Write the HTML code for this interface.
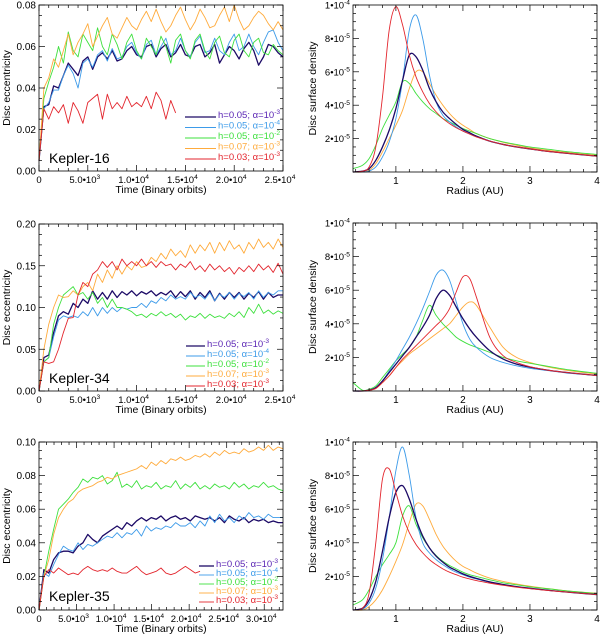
<!DOCTYPE html>
<html><head><meta charset="utf-8"><style>
body{margin:0;background:#fff}
svg{display:block;font-family:"Liberation Sans",sans-serif}
</style></head><body>
<svg id="fig" width="600" height="637" viewBox="0 0 600 637"></svg>
<script>
// ---------- DATA ----------
const seriesNames = ["h=0.05; α=10-3","h=0.05; α=10-4","h=0.05; α=10-2","h=0.07; α=10-3","h=0.03; α=10-3"];
const legendBase = ["h=0.05; α=10","h=0.05; α=10","h=0.05; α=10","h=0.07; α=10","h=0.03; α=10"];
const legendExp = ["-3","-4","-2","-3","-3"];
// Kepler-16 eccentricity (dt = 500 orbits)
const k16Dt = 500;
const k16Dark = [0.005,0.031,0.032,0.041,0.040,0.046,0.052,0.049,0.046,0.053,0.055,0.049,0.055,0.057,0.054,0.058,0.053,0.054,0.058,0.060,0.056,0.055,0.060,0.061,0.055,0.059,0.061,0.055,0.057,0.061,0.056,0.055,0.060,0.061,0.055,0.057,0.061,0.052,0.056,0.060,0.058,0.054,0.059,0.062,0.058,0.051,0.055,0.061,0.060,0.057,0.055];
const k16Blue = [0.005,0.030,0.033,0.039,0.039,0.046,0.051,0.047,0.040,0.052,0.054,0.050,0.056,0.058,0.053,0.059,0.054,0.055,0.060,0.062,0.057,0.054,0.061,0.063,0.056,0.060,0.064,0.056,0.058,0.064,0.058,0.055,0.062,0.065,0.057,0.058,0.064,0.058,0.056,0.062,0.066,0.058,0.060,0.066,0.060,0.056,0.062,0.067,0.068,0.062,0.058];
const k16Green = [0.005,0.035,0.043,0.050,0.060,0.052,0.067,0.058,0.055,0.066,0.062,0.058,0.069,0.060,0.056,0.066,0.061,0.054,0.062,0.066,0.058,0.054,0.064,0.060,0.056,0.065,0.060,0.052,0.063,0.066,0.058,0.054,0.063,0.066,0.058,0.054,0.062,0.065,0.057,0.055,0.063,0.066,0.058,0.055,0.062,0.064,0.057,0.056,0.061,0.058,0.056];
const k16Orange = [0.005,0.040,0.045,0.054,0.050,0.058,0.066,0.056,0.062,0.066,0.071,0.060,0.065,0.070,0.074,0.066,0.064,0.069,0.074,0.070,0.068,0.073,0.077,0.072,0.078,0.072,0.067,0.070,0.075,0.079,0.073,0.068,0.072,0.078,0.074,0.069,0.070,0.075,0.079,0.072,0.080,0.073,0.068,0.070,0.074,0.077,0.075,0.071,0.068,0.072,0.068];
const k16Red = [0.005,0.030,0.025,0.031,0.028,0.032,0.023,0.033,0.029,0.023,0.033,0.035,0.037,0.025,0.037,0.030,0.033,0.030,0.036,0.031,0.033,0.031,0.036,0.030,0.038,0.034,0.025,0.034,0.028];
// Kepler-34 eccentricity (dt = 500)
const k34Dt = 500;
const k34Dark = [0,0.040,0.043,0.070,0.090,0.095,0.092,0.105,0.100,0.110,0.105,0.120,0.110,0.118,0.110,0.120,0.112,0.119,0.115,0.120,0.114,0.119,0.116,0.120,0.114,0.118,0.115,0.120,0.112,0.119,0.113,0.120,0.110,0.118,0.112,0.120,0.108,0.117,0.110,0.118,0.112,0.118,0.110,0.117,0.112,0.119,0.110,0.118,0.112,0.115,0.115];
const k34Blue = [0,0.035,0.040,0.065,0.085,0.090,0.088,0.090,0.088,0.095,0.090,0.100,0.090,0.100,0.093,0.100,0.095,0.100,0.098,0.100,0.100,0.105,0.100,0.108,0.105,0.112,0.108,0.115,0.110,0.113,0.110,0.118,0.112,0.115,0.110,0.118,0.108,0.116,0.112,0.118,0.110,0.117,0.113,0.118,0.110,0.120,0.112,0.118,0.115,0.120,0.120];
const k34Green = [0,0.035,0.040,0.080,0.100,0.115,0.120,0.125,0.115,0.118,0.110,0.118,0.105,0.112,0.100,0.110,0.100,0.100,0.098,0.095,0.090,0.092,0.088,0.093,0.090,0.095,0.090,0.093,0.088,0.092,0.085,0.090,0.088,0.093,0.087,0.092,0.088,0.090,0.087,0.093,0.089,0.095,0.088,0.100,0.093,0.104,0.093,0.097,0.092,0.096,0.093];
const k34Orange = [0,0.050,0.080,0.100,0.115,0.112,0.113,0.120,0.115,0.125,0.130,0.120,0.140,0.130,0.145,0.135,0.150,0.140,0.150,0.145,0.155,0.148,0.150,0.160,0.155,0.165,0.158,0.170,0.162,0.168,0.160,0.175,0.165,0.175,0.168,0.178,0.165,0.178,0.168,0.180,0.170,0.175,0.165,0.178,0.170,0.182,0.172,0.178,0.170,0.182,0.172];
const k34Red = [0,0.035,0.033,0.035,0.050,0.070,0.087,0.088,0.115,0.130,0.125,0.140,0.145,0.155,0.148,0.155,0.145,0.158,0.150,0.155,0.150,0.158,0.150,0.155,0.148,0.155,0.150,0.152,0.145,0.152,0.148,0.155,0.145,0.150,0.143,0.152,0.145,0.150,0.143,0.148,0.140,0.148,0.143,0.150,0.143,0.152,0.145,0.150,0.142,0.153,0.140];
// Kepler-35 eccentricity (dt = 650)
const k35Dt = 650;
const k35Dark = [0,0.024,0.022,0.030,0.034,0.035,0.035,0.034,0.038,0.040,0.045,0.042,0.040,0.044,0.046,0.048,0.050,0.048,0.052,0.050,0.053,0.055,0.053,0.055,0.054,0.056,0.053,0.055,0.056,0.054,0.055,0.053,0.056,0.055,0.054,0.055,0.053,0.055,0.052,0.056,0.054,0.053,0.055,0.052,0.054,0.053,0.054,0.052,0.053,0.052,0.052];
const k35Blue = [0,0.022,0.020,0.027,0.033,0.038,0.036,0.035,0.040,0.036,0.039,0.038,0.040,0.042,0.044,0.043,0.046,0.043,0.046,0.045,0.048,0.044,0.050,0.047,0.049,0.048,0.050,0.049,0.052,0.050,0.050,0.052,0.049,0.053,0.050,0.056,0.052,0.057,0.053,0.055,0.052,0.056,0.054,0.058,0.055,0.056,0.054,0.057,0.055,0.055,0.055];
const k35Green = [0,0.020,0.035,0.048,0.060,0.063,0.066,0.070,0.073,0.078,0.076,0.079,0.078,0.080,0.075,0.077,0.082,0.073,0.075,0.073,0.077,0.072,0.074,0.073,0.076,0.072,0.074,0.073,0.077,0.072,0.075,0.073,0.076,0.072,0.074,0.072,0.075,0.073,0.074,0.072,0.076,0.073,0.075,0.072,0.074,0.073,0.076,0.073,0.074,0.072,0.071];
const k35Orange = [0,0.020,0.030,0.045,0.055,0.060,0.064,0.066,0.070,0.072,0.073,0.074,0.076,0.077,0.079,0.078,0.080,0.081,0.082,0.083,0.084,0.086,0.084,0.088,0.086,0.089,0.087,0.090,0.089,0.091,0.089,0.090,0.092,0.091,0.093,0.091,0.094,0.092,0.095,0.093,0.094,0.093,0.096,0.094,0.095,0.097,0.095,0.098,0.095,0.097,0.096];
const k35Red = [0,0.020,0.024,0.022,0.025,0.023,0.021,0.022,0.021,0.024,0.026,0.024,0.023,0.024,0.023,0.025,0.023,0.022,0.022,0.024,0.026,0.023,0.021,0.022,0.023,0.025,0.022,0.021,0.022,0.024,0.026,0.024,0.022,0.023];
// Surface density profiles (units of 1e-5), on common radius grid (AU)
const radii = [0.36,0.5,0.6,0.7,0.8,0.9,1.0,1.1,1.2,1.3,1.4,1.5,1.6,1.7,1.8,1.9,2.0,2.1,2.2,2.4,2.6,2.8,3.0,3.3,3.6,4.0];
const s16Dark   = [0,0.05,0.2,0.7,1.5,2.5,3.8,5.5,7.0,6.9,6.1,5.0,4.2,3.6,3.2,2.85,2.55,2.35,2.15,1.85,1.65,1.5,1.38,1.22,1.1,0.95];
const s16Blue   = [0,0,0.05,0.3,0.9,1.8,3.2,5.5,8.5,9.4,8.0,5.8,4.2,3.4,3.0,2.7,2.45,2.28,2.12,1.85,1.65,1.5,1.38,1.22,1.1,0.95];
const s16Green  = [0.2,0.4,0.8,1.6,2.6,3.4,4.2,5.4,5.3,4.7,4.2,3.8,3.5,3.2,3.0,2.8,2.6,2.45,2.3,2.0,1.8,1.65,1.5,1.35,1.2,1.05];
const s16Orange = [0,0,0.1,0.5,1.2,2.0,2.8,3.7,5.0,6.0,6.0,5.3,4.6,4.0,3.5,3.1,2.8,2.55,2.3,2.0,1.78,1.6,1.45,1.28,1.15,1.0];
const s16Red    = [0,0.05,0.3,1.5,4.5,8.5,9.9,8.8,7.0,5.7,4.8,4.1,3.6,3.2,2.9,2.65,2.45,2.27,2.1,1.85,1.65,1.5,1.38,1.22,1.1,0.95];
const s34Dark   = [0,0,0.05,0.2,0.6,1.1,1.6,2.1,2.6,3.2,3.8,4.5,5.5,6.0,5.7,5.0,4.3,3.7,3.2,2.4,1.9,1.6,1.42,1.22,1.08,0.92];
const s34Blue   = [0,0,0.05,0.2,0.6,1.2,1.8,2.5,3.2,4.0,4.9,5.9,6.9,7.2,6.6,5.3,4.0,3.1,2.6,2.0,1.7,1.5,1.35,1.2,1.05,0.92];
const s34Green  = [0.5,0.05,0.1,0.3,0.8,1.3,1.8,2.2,2.6,3.2,4.2,5.1,4.5,4.0,3.6,3.2,2.95,2.75,2.6,2.3,2.0,1.8,1.65,1.45,1.25,1.05];
const s34Orange = [0,0,0.05,0.15,0.5,0.9,1.4,1.8,2.2,2.5,2.8,3.1,3.4,3.7,4.0,4.5,5.0,5.3,5.1,3.8,2.6,2.0,1.7,1.4,1.2,1.0];
const s34Red    = [0,0,0.05,0.15,0.5,0.9,1.4,1.9,2.3,2.7,3.1,3.5,3.9,4.3,4.9,5.9,6.8,6.7,5.6,3.2,2.1,1.7,1.45,1.22,1.08,0.92];
const s35Dark   = [0,0.1,0.6,1.7,3.5,5.5,7.0,7.4,6.6,5.4,4.4,3.7,3.2,2.85,2.55,2.35,2.15,2.0,1.88,1.67,1.52,1.39,1.29,1.16,1.05,0.92];
const s35Blue   = [0,0.05,0.4,1.3,3.0,5.5,8.3,9.7,8.0,5.5,4.0,3.4,3.0,2.7,2.45,2.25,2.1,1.95,1.85,1.65,1.5,1.38,1.28,1.16,1.05,0.92];
const s35Green  = [0.3,0.6,1.2,2.0,2.7,3.3,4.0,5.6,6.2,5.1,4.3,3.7,3.25,2.9,2.65,2.45,2.25,2.1,2.0,1.8,1.62,1.5,1.38,1.25,1.12,0.98];
const s35Orange = [0,0,0.2,0.6,1.2,2.0,2.9,3.9,5.2,6.3,6.2,5.4,4.5,3.8,3.3,2.9,2.6,2.4,2.2,1.9,1.7,1.55,1.42,1.26,1.12,1.0];
const s35Red    = [0,0.1,1.0,4.0,7.8,8.4,7.0,5.6,4.6,3.9,3.4,3.0,2.7,2.45,2.25,2.1,1.95,1.85,1.75,1.6,1.47,1.36,1.27,1.15,1.05,0.92];
const eccTicks16 = [0,0.02,0.04,0.06,0.08];
const eccTicks34 = [0,0.05,0.10,0.15,0.20];
const eccTicks35 = [0,0.02,0.04,0.06,0.08,0.10];
const timeTicks = [0,5000,10000,15000,20000,25000,30000];
const densTicks = [2,4,6,8,10];
const radTicks = [1,2,3,4];

// ---------- DRAW ----------
const NS="http://www.w3.org/2000/svg";
const svg=document.getElementById('fig');
const COLORS=["#1c0a66","#3d9be9","#3ee03e","#ffab3c","#e3262e"];
const TEXTCOL=["#5a24b4","#3d9be9","#3ee03e","#ffab3c","#e3262e"];
const KEYS=["dark","blue","green","orange","red"];
function mk(tag,attrs,parent){const e=document.createElementNS(NS,tag);for(const k in attrs)e.setAttribute(k,attrs[k]);(parent||svg).appendChild(e);return e;}
function supText(x,y,base,exp,anchor,size,fill,parent){
  const t=mk('text',{x:x,y:y,'text-anchor':anchor,'font-size':size,fill:fill},parent);
  t.appendChild(document.createTextNode(base));
  if(exp!==null){const s=mk('tspan',{dy:-size*0.4,'font-size':size*0.7},t);s.textContent=exp;}
  return t;
}
function fmtTime(v){if(v===0)return ['0',null];const e=Math.floor(Math.log10(v));return [(v/Math.pow(10,e)).toFixed(1)+'•10',String(e)];}

function frame(g,L,T,R,B,xs,ys,xmin,xmax,xmaj,xmin_,ymin,ymax,ymaj,ymin_){
  mk('rect',{x:L,y:T,width:R-L,height:B-T,fill:'none',stroke:'#000','stroke-width':0.8},g);
  const tk=(x1,y1,x2,y2)=>mk('line',{x1,y1,x2,y2,stroke:'#000','stroke-width':0.7},g);
  for(let v=Math.ceil(xmin/xmin_)*xmin_;v<=xmax+1e-9;v+=xmin_){const maj=Math.abs(v/xmaj-Math.round(v/xmaj))<1e-6;const l=maj?6:3;const X=xs(v);tk(X,B,X,B-l);tk(X,T,X,T+l);}
  for(let v=Math.ceil(ymin/ymin_-1e-9)*ymin_;v<=ymax+1e-9;v+=ymin_){const maj=Math.abs(v/ymaj-Math.round(v/ymaj))<1e-6;const l=maj?6:3;const Y=ys(v);tk(L,Y,L+l,Y);tk(R,Y,R-l,Y);}
}
function smoothPath(pts){
  let d='M'+pts[0][0]+','+pts[0][1];
  for(let i=0;i<pts.length-1;i++){const p0=pts[Math.max(0,i-1)],p1=pts[i],p2=pts[i+1],p3=pts[Math.min(pts.length-1,i+2)];
    const c1=[p1[0]+(p2[0]-p0[0])/6,p1[1]+(p2[1]-p0[1])/6],c2=[p2[0]-(p3[0]-p1[0])/6,p2[1]-(p3[1]-p1[1])/6];
    d+=' C'+c1[0].toFixed(2)+','+c1[1].toFixed(2)+' '+c2[0].toFixed(2)+','+c2[1].toFixed(2)+' '+p2[0].toFixed(2)+','+p2[1].toFixed(2);}
  return d;
}

function eccPanel(name,T,B,xmax,ymax,yticks,ymaj,dt,series,leg,label){
  const g=mk('g',{});
  
  
  const L=39,R=283;
  const xs=v=>L+(v/xmax)*(R-L), ys=v=>B-(v/ymax)*(B-T);
  series.forEach((arr,i)=>{
    const p=mk('polyline',{points:arr.map((v,j)=>xs(j*dt).toFixed(2)+','+ys(v).toFixed(2)).join(' '),fill:'none',stroke:COLORS[i],'stroke-width':i===0?1.3:0.9,'stroke-linejoin':'round'},g);
    
    
  });
  frame(g,L,T,R,B,xs,ys,0,xmax,5000,1000,0,ymax,ymaj,ymaj/4);
  yticks.forEach(v=>{const t=mk('text',{x:L-3,y:ys(v)+3.5,'text-anchor':'end','font-size':10},g);t.textContent=v.toFixed(2);
    });
  timeTicks.filter(v=>v<=xmax).forEach(v=>{const f=fmtTime(v);const t=supText(xs(v)-(v?3:0),B+12,f[0],f[1],'middle',9.5,'#000',g);
    });
  const xt=mk('text',{x:(L+R)/2,y:B+22,'text-anchor':'middle','font-size':10.5},g);xt.textContent='Time (Binary orbits)';
  
  const yt=mk('text',{x:0,y:0,'text-anchor':'middle','font-size':10.5,transform:'translate(10,'+((T+B)/2)+') rotate(-90)'},g);yt.textContent='Disc eccentricity';
  
  const kl=mk('text',{x:49,y:label,'font-size':14},g);kl.textContent=name;
  
  for(let i=0;i<5;i++){const y=leg.y0+i*leg.dy;
    const lg=mk('g',{},g);
    
    
    mk('line',{x1:leg.x1,y1:y,x2:leg.x2,y2:y,stroke:COLORS[i],'stroke-width':i===0?1.3:0.9},lg);
    supText(leg.x2+2,y+1,legendBase[i],legendExp[i],'start',9.5,TEXTCOL[i],lg);
  }
}
function densPanel(name,T,B,series){
  const g=mk('g',{});
  
  
  const L=353,R=597,xmin=0.36,xmax=4,ymax=10;
  const xs=v=>L+(v-xmin)/(xmax-xmin)*(R-L), ys=v=>B-(v/ymax)*(B-T);
  const order=[3,2,1,0,4];
  order.forEach(i=>{const arr=series[i];
    const p=mk('path',{d:smoothPath(arr.map((v,j)=>[xs(radii[j]),ys(v)])),fill:'none',stroke:COLORS[i],'stroke-width':i===0?1.3:0.9},g);
    
    
  });
  frame(g,L,T,R,B,xs,ys,xmin,xmax,1,0.2,0,ymax,2,0.5);
  densTicks.forEach(v=>{const t=v===10?supText(L-3,ys(v)+3.5,'1•10','-4','end',9.5,'#000',g):supText(L-3,ys(v)+3.5,v+'•10','-5','end',9.5,'#000',g);
    });
  radTicks.forEach(v=>{const t=mk('text',{x:xs(v),y:B+12,'text-anchor':'middle','font-size':10},g);t.textContent=v;
    });
  const xt=mk('text',{x:(L+R)/2,y:B+22,'text-anchor':'middle','font-size':10.5},g);xt.textContent='Radius (AU)';
  
  const yt=mk('text',{x:0,y:0,'text-anchor':'middle','font-size':10.5,transform:'translate(316,'+((T+B)/2)+') rotate(-90)'},g);yt.textContent='Disc surface density';
  
}
eccPanel('Kepler-16',5,171,25000,0.08,eccTicks16,0.02,k16Dt,[k16Dark,k16Blue,k16Green,k16Orange,k16Red],{x1:185,x2:216,y0:117,dy:10.5},163);
eccPanel('Kepler-34',224,391,25000,0.20,eccTicks34,0.05,k34Dt,[k34Dark,k34Blue,k34Green,k34Orange,k34Red],{x1:186,x2:205,y0:346,dy:10},383);
eccPanel('Kepler-35',442,610,32500,0.10,eccTicks35,0.02,k35Dt,[k35Dark,k35Blue,k35Green,k35Orange,k35Red],{x1:199,x2:214,y0:566,dy:9},601);
densPanel('Kepler-16',5,172,[s16Dark,s16Blue,s16Green,s16Orange,s16Red]);
densPanel('Kepler-34',223,391,[s34Dark,s34Blue,s34Green,s34Orange,s34Red]);
densPanel('Kepler-35',442,610,[s35Dark,s35Blue,s35Green,s35Orange,s35Red]);
</script>
</body></html>
